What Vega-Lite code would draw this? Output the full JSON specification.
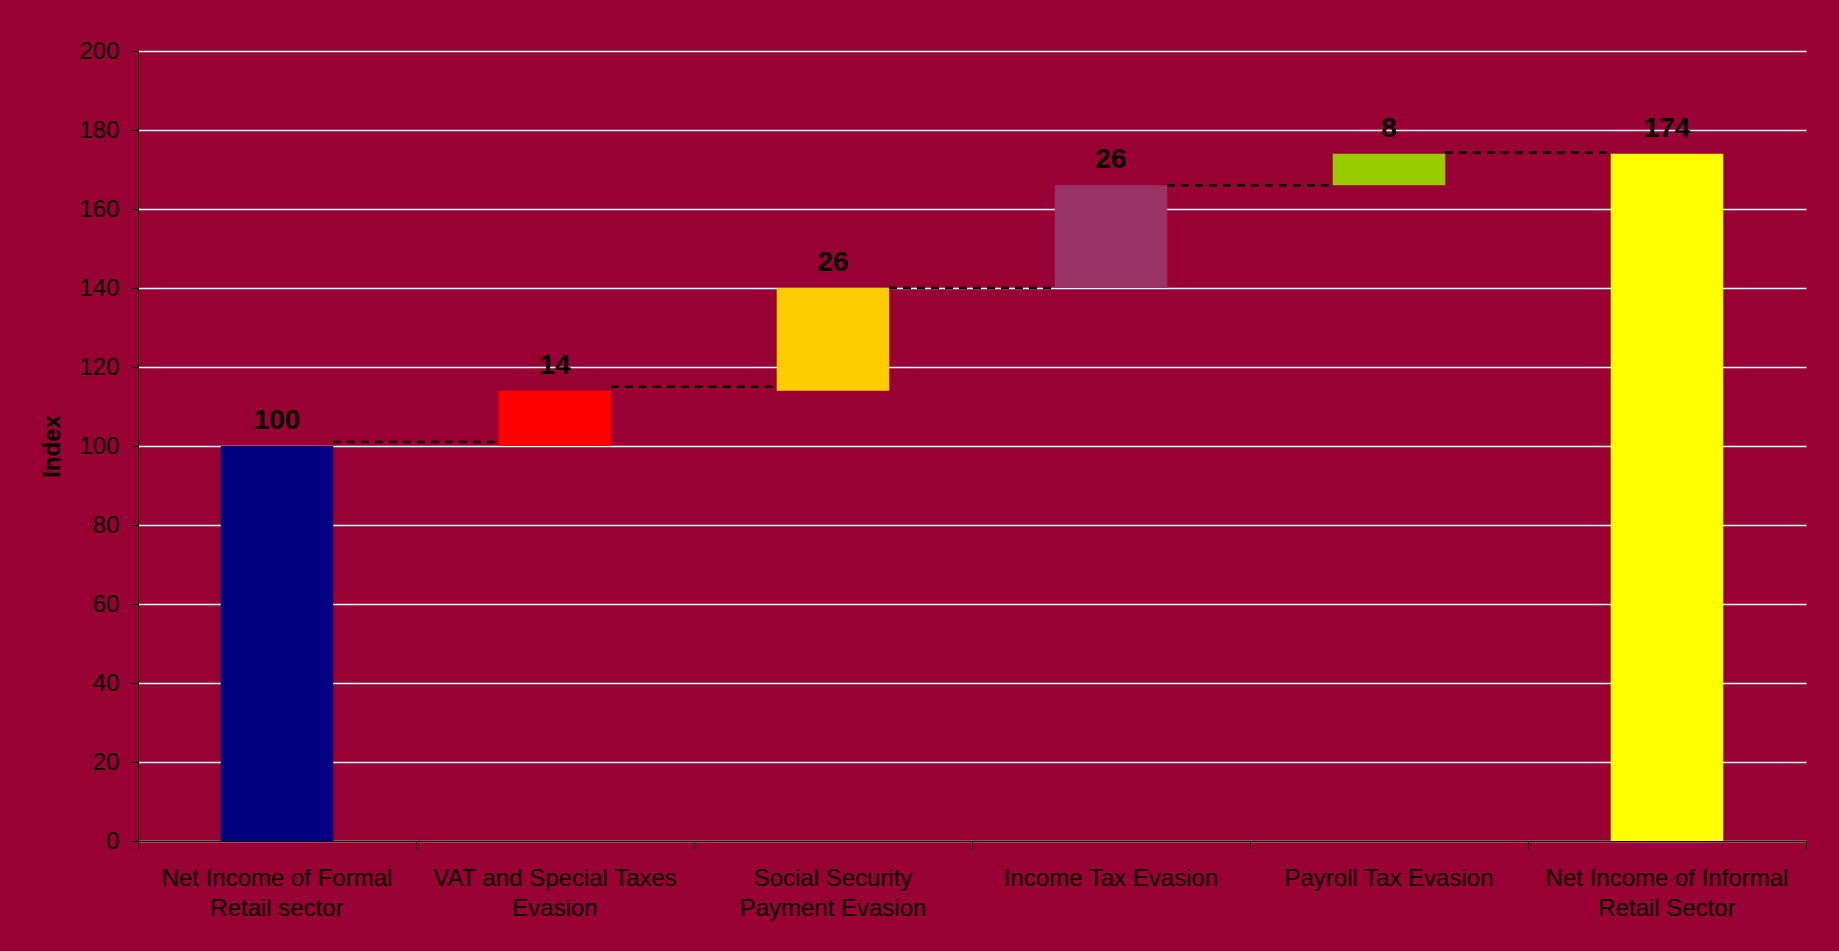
{
  "$schema": "https://vega.github.io/schema/vega-lite/v6.json",
  "autosize": {"type": "none"},
  "width": 1668,
  "height": 790,
  "padding": {"left": 138, "top": 51, "right": 33, "bottom": 110},
  "background": "#990033",
  "config": {
    "view": {"stroke": null},
    "font": "Liberation Sans",
    "axis": {"labelFont": "Liberation Sans", "titleFont": "Liberation Sans", "labelColor": "#000000", "titleColor": "#000000"},
    "axisY": {
      "titleFontSize": 24,
      "titleFontWeight": "bold",
      "titlePadding": 14,
      "labelFontSize": 24,
      "labelPadding": 12,
      "tickSize": 7,
      "tickColor": "#000000",
      "domainColor": "#000000",
      "grid": true,
      "gridColor": "#ffffff",
      "gridWidth": 1.5,
      "gridOpacity": 1
    }
  },
  "datasets": {
    "steps": [
      {"category": "Net Income of Formal Retail sector", "start": 0, "end": 100, "label": "100"},
      {"category": "VAT and Special Taxes Evasion", "start": 100, "end": 114, "label": "14"},
      {"category": "Social Security Payment Evasion", "start": 114, "end": 140, "label": "26"},
      {"category": "Income Tax Evasion", "start": 140, "end": 166, "label": "26"},
      {"category": "Payroll Tax Evasion", "start": 166, "end": 174, "label": "8"},
      {"category": "Net Income of Informal Retail Sector", "start": 0, "end": 174, "label": "174"}
    ],
    "links": [
      {"from": "Net Income of Formal Retail sector", "to": "VAT and Special Taxes Evasion", "level": 101},
      {"from": "VAT and Special Taxes Evasion", "to": "Social Security Payment Evasion", "level": 115},
      {"from": "Social Security Payment Evasion", "to": "Income Tax Evasion", "level": 140},
      {"from": "Income Tax Evasion", "to": "Payroll Tax Evasion", "level": 166},
      {"from": "Payroll Tax Evasion", "to": "Net Income of Informal Retail Sector", "level": 174.3}
    ]
  },
  "resolve": {"axis": {"x": "independent"}},
  "layer": [
    {
      "data": {"name": "steps"},
      "mark": {"type": "bar", "width": {"band": 0.405}},
      "encoding": {
        "x": {
          "field": "category", "type": "nominal", "sort": null,
          "scale": {"paddingInner": 0, "paddingOuter": 0},
          "axis": {
            "orient": "bottom",
            "title": null,
            "labelAngle": 0,
            "labelFontSize": 24,
            "labelLineHeight": 30,
            "labelPadding": 25,
            "labelLimit": 400,
            "ticks": false,
            "domain": true,
            "domainColor": "#000000",
            "domainWidth": 1,
            "grid": false,
            "labelExpr": "datum.value == 'Net Income of Formal Retail sector' ? ['Net Income of Formal', 'Retail sector'] : datum.value == 'VAT and Special Taxes Evasion' ? ['VAT and Special Taxes', 'Evasion'] : datum.value == 'Social Security Payment Evasion' ? ['Social Security', 'Payment Evasion'] : datum.value == 'Net Income of Informal Retail Sector' ? ['Net Income of Informal', 'Retail Sector'] : datum.value"
          }
        },
        "y": {
          "field": "start", "type": "quantitative",
          "scale": {"domain": [0, 200], "nice": false},
          "axis": {
            "title": "Index",
            "values": [0, 20, 40, 60, 80, 100, 120, 140, 160, 180, 200]
          }
        },
        "y2": {"field": "end"},
        "color": {
          "field": "category", "type": "nominal",
          "scale": {
            "domain": ["Net Income of Formal Retail sector", "VAT and Special Taxes Evasion", "Social Security Payment Evasion", "Income Tax Evasion", "Payroll Tax Evasion", "Net Income of Informal Retail Sector"],
            "range": ["#000080", "#ff0000", "#ffcc00", "#993366", "#99cc00", "#ffff00"]
          },
          "legend": null
        }
      }
    },
    {
      "data": {"name": "links"},
      "mark": {"type": "rule", "color": "#000000", "strokeWidth": 2.5, "strokeDash": [8, 6], "xOffset": 56, "x2Offset": -56},
      "encoding": {
        "x": {
          "field": "from", "type": "nominal", "sort": null,
          "axis": {
            "orient": "bottom",
            "title": null,
            "labels": false,
            "ticks": true,
            "tickSize": 8,
            "tickColor": "#000000",
            "domain": false,
            "grid": false,
            "bandPosition": 0
          }
        },
        "x2": {"field": "to"},
        "y": {"field": "level", "type": "quantitative", "axis": {"title": "Index", "values": [0, 20, 40, 60, 80, 100, 120, 140, 160, 180, 200]}}
      }
    },
    {
      "data": {"name": "steps"},
      "mark": {"type": "text", "fontSize": 28, "fontWeight": "bold", "color": "#000000", "baseline": "alphabetic", "dy": -17},
      "encoding": {
        "x": {
          "field": "category", "type": "nominal", "sort": null,
          "axis": {
            "orient": "bottom",
            "title": null,
            "labels": false,
            "ticks": true,
            "tickSize": 8,
            "tickColor": "#000000",
            "domain": false,
            "grid": false,
            "bandPosition": 1
          }
        },
        "y": {"field": "end", "type": "quantitative", "axis": {"title": "Index", "values": [0, 20, 40, 60, 80, 100, 120, 140, 160, 180, 200]}},
        "text": {"field": "label"}
      }
    }
  ]
}
